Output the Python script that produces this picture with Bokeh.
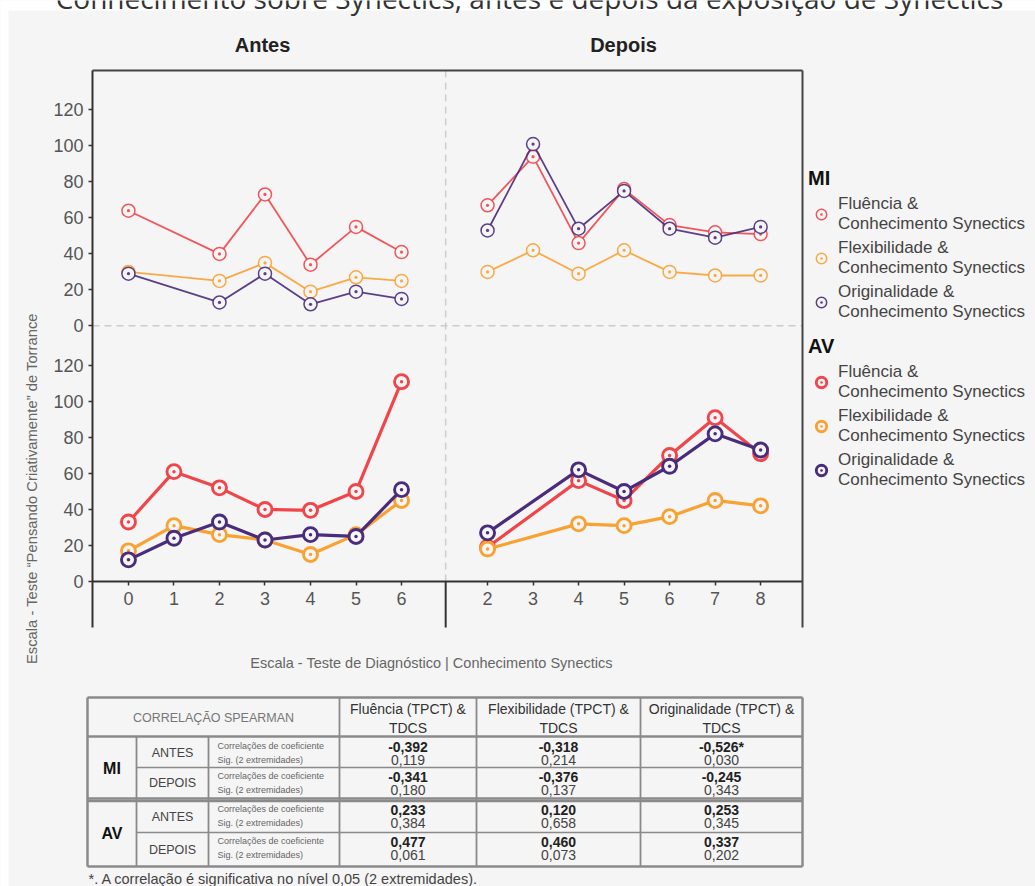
from math import pi

from bokeh.core.properties import value
from bokeh.embed import file_html
from bokeh.models import (ColumnDataSource, FixedTicker, Label, Legend, LegendItem,
                          LinearAxis, Range1d)
from bokeh.plotting import figure
from bokeh.resources import INLINE

# ---------------------------------------------------------------- data
antes_x = [0, 1, 2, 3, 4, 5, 6]
depois_x = [2, 3, 4, 5, 6, 7, 8]

# MI group
mi_antes_x = [0, 2, 3, 4, 5, 6]
mi_antes_fluencia = [64, 40, 73, 34, 55, 41]
mi_antes_flexibilidade = [30, 25, 35, 19, 27, 25]
mi_antes_originalidade = [29, 13, 29, 12, 19, 15]

mi_depois_x = [2, 3, 4, 5, 6, 7, 8]
mi_depois_fluencia = [67, 94, 46, 76, 56, 52, 51]
mi_depois_flexibilidade = [30, 42, 29, 42, 30, 28, 28]
mi_depois_originalidade = [53, 101, 54, 75, 54, 49, 55]

# AV group
av_antes_x = [0, 1, 2, 3, 4, 5, 6]
av_antes_fluencia = [33, 61, 52, 40, 39.5, 50, 111]
av_antes_flexibilidade = [17, 31, 26, 23, 15, 26, 45]
av_antes_originalidade = [12, 24, 33, 23, 26, 25, 51]

av_depois_x = [2, 4, 5, 6, 7, 8]
av_depois_fluencia = [19, 56, 45, 70, 91, 71]
av_depois_flexibilidade = [18, 32, 31, 36, 45, 42]
av_depois_originalidade = [27, 62, 50, 64, 82, 73]

y_ticks = [0, 20, 40, 60, 80, 100, 120]

# Spearman table
table_groups = ["MI", "AV"]
table_moments = ["ANTES", "DEPOIS"]
table_columns = ["Fluência (TPCT) &\nTDCS", "Flexibilidade (TPCT) &\nTDCS",
                 "Originalidade (TPCT) &\nTDCS"]
coef_rows = [[-0.392, -0.318, -0.526],
             [-0.341, -0.376, -0.245],
             [0.233, 0.120, 0.253],
             [0.477, 0.460, 0.337]]
sig_rows = [[0.119, 0.214, 0.030],
            [0.180, 0.137, 0.343],
            [0.384, 0.658, 0.345],
            [0.061, 0.073, 0.202]]

# ---------------------------------------------------------------- style
BG = "#f5f5f5"
RED = "#f0454a"
ORANGE = "#f8a233"
PURPLE = "#4a2c7c"
FONT = "Liberation Sans"

# page and chart-box geometry (canvas px)
W, H = 1035, 886
FL, FR, FT, FB = 92, 802, 70, 627
# data window of the chart box
X0, X1 = -0.79, 14.81
Y0, Y1 = -25.6, 283.9
KX = (X1 - X0) / (FR - FL)
KY = (Y1 - Y0) / (FB - FT)
DEPOIS_SHIFT = 5.89   # horizontal offset of the "Depois" block
MI_SHIFT = 142        # vertical offset of the MI panel
DIVIDER = 6.97


def cx(px):
    return X0 + (px - FL) * KX


def cy(py):
    return Y1 - (py - FT) * KY


p = figure(width=W, height=H, x_range=Range1d(cx(0), cx(W)), y_range=Range1d(cy(H), cy(0)),
           x_axis_type=None, y_axis_type=None, toolbar_location=None,
           output_backend="svg", min_border=0, background_fill_color=BG,
           border_fill_color=BG, outline_line_color=None)
p.extra_x_ranges = {"px": Range1d(0, W)}
p.extra_y_ranges = {"px": Range1d(H, 0)}
p.grid.visible = False

# white page margin and heading running off the top edge
p.quad(left=[0, 0], right=[W, 8], top=[0, 0], bottom=[10, H], fill_color="white",
       line_color=None, x_range_name="px", y_range_name="px")
p.add_layout(Label(x=cx(529), y=cy(-2.5),
                   text="Conhecimento sobre Synectics, antes e depois da exposição de Synectics",
                   text_align="center", text_baseline="alphabetic",
                   text_font="Open Sans", text_font_size="28px", text_color="#333333"))

# y axis: two stacked panels sharing the same scale
yax = LinearAxis(fixed_location=X0, bounds=(Y0, Y1),
                 ticker=FixedTicker(ticks=y_ticks + [t + MI_SHIFT for t in y_ticks]),
                 major_label_overrides={**{t: str(t) for t in y_ticks},
                                        **{t + MI_SHIFT: str(t) for t in y_ticks}},
                 axis_line_width=2, axis_line_color="#333333",
                 major_tick_line_color="#333333", major_tick_line_width=1.5,
                 major_tick_out=4, major_tick_in=0, minor_tick_line_color=None,
                 major_label_text_font=FONT, major_label_text_font_size="18px",
                 major_label_text_color="#555555", major_label_standoff=5)
p.add_layout(yax, "left")

# x axis drawn at y = 0 of the lower panel
x_positions = antes_x + [v + DEPOIS_SHIFT for v in depois_x]
x_labels = {**{v: str(v) for v in antes_x},
            **{v + DEPOIS_SHIFT: str(v) for v in depois_x}}
xax = LinearAxis(fixed_location=0, bounds=(X0, X1), ticker=FixedTicker(ticks=x_positions),
                 major_label_overrides=x_labels, axis_line_width=2,
                 axis_line_color="#333333", major_tick_line_color="#333333",
                 major_tick_line_width=1.5, major_tick_out=4, major_tick_in=0,
                 minor_tick_line_color=None, major_label_text_font=FONT,
                 major_label_text_font_size="18px", major_label_text_color="#555555",
                 major_label_standoff=7)
p.add_layout(xax, "below")

# closing lines of the chart box
top_axis = LinearAxis(fixed_location=Y1, bounds=(X0, X1), ticker=FixedTicker(ticks=[]),
                      axis_line_width=2, axis_line_color="#444444",
                      major_tick_line_color=None, minor_tick_line_color=None,
                      major_label_text_font_size="0px")
p.add_layout(top_axis, "above")
right_axis = LinearAxis(fixed_location=X1, bounds=(Y0, Y1), ticker=FixedTicker(ticks=[]),
                        axis_line_width=2, axis_line_color="#444444",
                        major_tick_line_color=None, minor_tick_line_color=None,
                        major_label_text_font_size="0px")
p.add_layout(right_axis, "right")

# guides
p.segment(x0=[X0], y0=[MI_SHIFT], x1=[X1], y1=[MI_SHIFT], line_color="#cccccc",
          line_width=1.5, line_dash="7 5")
p.segment(x0=[DIVIDER], y0=[0], x1=[DIVIDER], y1=[Y1], line_color="#cccccc",
          line_width=1.5, line_dash="7 5")
p.segment(x0=[DIVIDER], y0=[Y0], x1=[DIVIDER], y1=[0], line_color="#333333",
          line_width=2)

series = [
    ("MI", "Fluência &\nConhecimento Synectics", RED,
     mi_antes_x, mi_antes_fluencia, mi_depois_x, mi_depois_fluencia),
    ("MI", "Flexibilidade &\nConhecimento Synectics", ORANGE,
     mi_antes_x, mi_antes_flexibilidade, mi_depois_x, mi_depois_flexibilidade),
    ("MI", "Originalidade &\nConhecimento Synectics", PURPLE,
     mi_antes_x, mi_antes_originalidade, mi_depois_x, mi_depois_originalidade),
    ("AV", "Fluência &\nConhecimento Synectics", RED,
     av_antes_x, av_antes_fluencia, av_depois_x, av_depois_fluencia),
    ("AV", "Flexibilidade &\nConhecimento Synectics", ORANGE,
     av_antes_x, av_antes_flexibilidade, av_depois_x, av_depois_flexibilidade),
    ("AV", "Originalidade &\nConhecimento Synectics", PURPLE,
     av_antes_x, av_antes_originalidade, av_depois_x, av_depois_originalidade),
]

legend_items = {"MI": [], "AV": []}
for group, label, color, ax_, ay_, dx_, dy_ in series:
    shift = MI_SHIFT if group == "MI" else 0
    lw = 1.8 if group == "MI" else 3.2
    size = 13 if group == "MI" else 14
    alpha = 0.9 if group == "MI" else 1.0
    first = None
    for xs, ys, xoff in ((ax_, ay_, 0), (dx_, dy_, DEPOIS_SHIFT)):
        src = ColumnDataSource(dict(x=[v + xoff for v in xs], y=[v + shift for v in ys]))
        p.line("x", "y", source=src, line_color=color, line_width=lw, line_alpha=alpha)
        r = p.scatter("x", "y", source=src, marker="circle_dot", size=size,
                      line_color=color, line_width=lw - 0.3, fill_color=BG,
                      line_alpha=alpha)
        first = first or r
    legend_items[group].append(LegendItem(label=label, renderers=[first]))

for group, bottom in (("MI", H - 322), ("AV", H - 490)):
    lg = Legend(items=legend_items[group], title=group, location=(808, bottom),
                background_fill_alpha=0, border_line_color=None, padding=0, margin=0,
                spacing=4, glyph_width=26, glyph_height=26, label_standoff=4,
                label_text_font=FONT, label_text_font_size="17px",
                label_text_color="#444444", title_text_font=FONT,
                title_text_font_size="20px", title_text_font_style="bold",
                title_text_color="#111111", title_standoff=4)
    p.add_layout(lg)

# headings and axis titles
for txt, xpos in (("Antes", 262), ("Depois", 623)):
    p.add_layout(Label(x=cx(xpos), y=cy(44), text=txt, text_align="center",
                       text_baseline="middle", text_font=FONT, text_font_size="20px",
                       text_font_style="bold", text_color="#222222"))
p.add_layout(Label(x=cx(31), y=cy(488),
                   text="Escala - Teste “Pensando Criativamente” de Torrance",
                   angle=pi / 2, text_align="center", text_baseline="middle",
                   text_font=FONT, text_font_size="14.8px", text_color="#666666"))
p.add_layout(Label(x=cx(431), y=cy(662),
                   text="Escala - Teste de Diagnóstico | Conhecimento Synectics",
                   text_align="center", text_baseline="middle",
                   text_font=FONT, text_font_size="14.5px", text_color="#666666"))

# ---------------------------------------------------------------- table (px coordinates)
PX = dict(x_range_name="px", y_range_name="px")
cols = [87, 136, 208, 339, 476, 640, 802]
top, head_bot = 697, 736
row_tops = [737, 767, 800, 832]
row_bots = [767, 798, 832, 866]
bottom = 866
LINE = "#8a8a8a"

t_full = [(top, 2.5), (head_bot, 2.5), (798, 2.5), (800.5, 2.5), (bottom, 2.5)]
t_inner = [(767, 1.5), (832, 1.5)]
hx0 = [cols[0]] * len(t_full) + [cols[1]] * len(t_inner)
hy = [y_ for y_, _ in t_full + t_inner]
hw = [w_ for _, w_ in t_full + t_inner]
p.segment(x0=hx0, y0=hy, x1=[cols[-1]] * len(hy), y1=hy, line_color=LINE,
          line_width=hw, **PX)
vy0 = [head_bot if i in (1, 2) else top for i in range(len(cols))]
vw = [2.5 if i in (0, len(cols) - 1) else 1.8 for i in range(len(cols))]
p.segment(x0=cols, y0=vy0, x1=cols, y1=[bottom] * len(cols), line_color=LINE,
          line_width=vw, **PX)

p.text(x=[(cols[0] + cols[3]) / 2], y=[717], text=["CORRELAÇÃO SPEARMAN"],
       text_align="center", text_baseline="middle", text_font=value(FONT),
       text_font_size="12.5px", text_color="#777777", **PX)
centers = [(cols[i] + cols[i + 1]) / 2 for i in range(3, 6)]
head_l1 = [h.split("\n")[0] for h in table_columns]
head_l2 = [h.split("\n")[1] for h in table_columns]
p.text(x=centers, y=[708] * 3, text=head_l1, text_align="center", text_baseline="middle",
       text_font=value(FONT), text_font_size="14px", text_color="#333333", **PX)
p.text(x=centers, y=[727] * 3, text=head_l2, text_align="center", text_baseline="middle",
       text_font=value(FONT), text_font_size="14px", text_color="#333333", **PX)

p.text(x=[(cols[0] + cols[1]) / 2] * 2, y=[767.5, 833], text=table_groups,
       text_align="center", text_baseline="middle", text_font=value(FONT),
       text_font_size="16px", text_font_style="bold", text_color="#111111", **PX)

p.text(x=[(cols[1] + cols[2]) / 2] * 4,
       y=[(a + b) / 2 for a, b in zip(row_tops, row_bots)], text=table_moments * 2,
       text_align="center", text_baseline="middle", text_font=value(FONT),
       text_font_size="12.5px", text_color="#444444", **PX)
p.text(x=[cols[2] + 9] * 4, y=[r + 8 for r in row_tops],
       text=["Correlações de coeficiente"] * 4, text_align="left", text_baseline="middle",
       text_font=value(FONT), text_font_size="9px", text_color="#666666", **PX)
p.text(x=[cols[2] + 9] * 4, y=[r + 22 for r in row_tops],
       text=["Sig. (2 extremidades)"] * 4, text_align="left", text_baseline="middle",
       text_font=value(FONT), text_font_size="9px", text_color="#666666", **PX)


def fmt(v):
    return f"{v:.3f}".replace(".", ",")


cx_vals, cy_coef, cy_sig, coef_txt, sig_txt = [], [], [], [], []
for r, (crow, srow) in enumerate(zip(coef_rows, sig_rows)):
    for c, (cv, sv) in enumerate(zip(crow, srow)):
        cx_vals.append(centers[c])
        cy_coef.append(row_tops[r] + 9)
        cy_sig.append(row_tops[r] + 22)
        coef_txt.append(fmt(cv) + ("*" if sv < 0.05 else ""))
        sig_txt.append(fmt(sv))
p.text(x=cx_vals, y=cy_coef, text=coef_txt, text_align="center", text_baseline="middle",
       text_font=value(FONT), text_font_size="14px", text_font_style="bold",
       text_color="#222222", **PX)
p.text(x=cx_vals, y=cy_sig, text=sig_txt, text_align="center", text_baseline="middle",
       text_font=value(FONT), text_font_size="14px", text_color="#444444", **PX)

p.text(x=[88], y=[878], text=["*. A correlação é significativa no nível 0,05 (2 extremidades)."],
       text_align="left", text_baseline="middle", text_font=value(FONT),
       text_font_size="14.5px", text_color="#444444", **PX)

open("out.html", "w").write(file_html(p, INLINE))
